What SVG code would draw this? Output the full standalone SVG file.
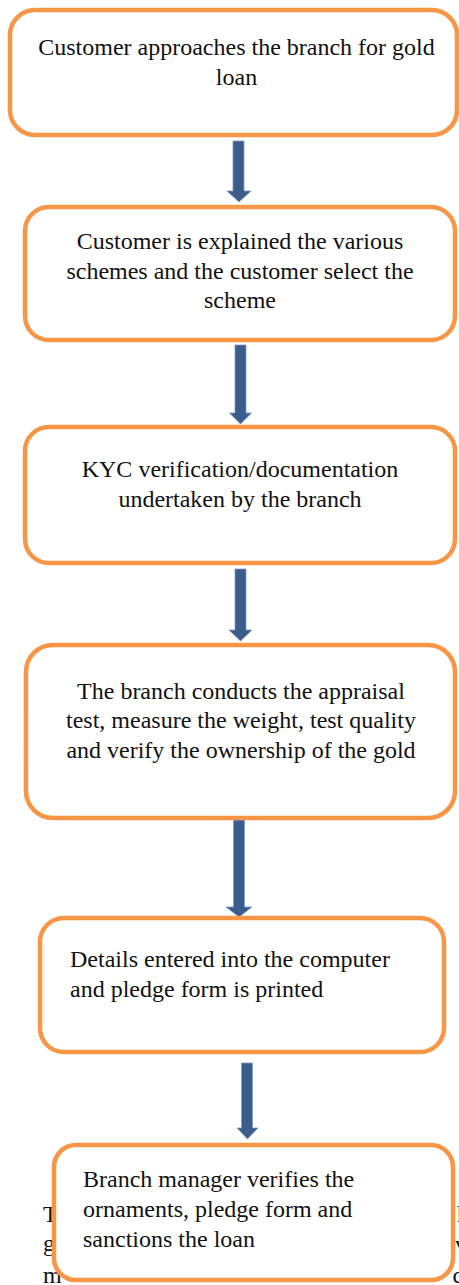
<svg xmlns="http://www.w3.org/2000/svg" width="459" height="1285" viewBox="0 0 459 1285">
<style>
.box{fill:#ffffff;stroke:#F79646;stroke-width:4.5}
text{font-family:'Liberation Serif','Times New Roman',Tinos,'DejaVu Serif',serif;font-size:24px;fill:#111111}
.c{text-anchor:middle}
.arr{fill:#3A5D8B;stroke:#7F9CC4;stroke-width:0.8}
</style>
<rect width="459" height="1285" fill="#ffffff"/>
<g id="background-text">
<text x="43" y="1222">T</text>
<text x="43" y="1251">g</text>
<text x="43" y="1283">m</text>
<text x="457" y="1222">h</text>
<text x="455" y="1252">v</text>
<text x="452.5" y="1283">c</text>
</g>
<g id="connectors">
<path class="arr" d="M233,141 H244 V191 H251 L239,202 L227,191 H233 Z"/>
<path class="arr" d="M235,345 H246 V413 H251.5 L240.5,424 L229.5,413 H235 Z"/>
<path class="arr" d="M235,569 H246 V630 H252 L240.5,641 L229,630 H235 Z"/>
<path class="arr" d="M233.5,820 H244.5 V907 H252 L239,917 L226,907 H233.5 Z"/>
<path class="arr" d="M241.5,1063 H252.5 V1128 H258 L247.5,1139 L237,1128 H241.5 Z"/>
</g>
<g id="node1">
<rect class="box" x="10" y="10" width="447" height="125" rx="25"/>
<text class="c" x="236.5" y="55">Customer approaches the branch for gold</text>
<text class="c" x="236.5" y="85">loan</text>
</g>
<g id="node2">
<rect class="box" x="25" y="207" width="430" height="133" rx="24"/>
<text class="c" x="240" y="249">Customer is explained the various</text>
<text class="c" x="240" y="278.5">schemes and the customer select the</text>
<text class="c" x="240" y="308">scheme</text>
</g>
<g id="node3">
<rect class="box" x="25" y="427" width="430" height="136" rx="24"/>
<text class="c" x="240" y="477">KYC verification/documentation</text>
<text class="c" x="240" y="507">undertaken by the branch</text>
</g>
<g id="node4">
<rect class="box" x="26" y="645" width="429" height="173" rx="27"/>
<text class="c" x="241" y="698.5">The branch conducts the appraisal</text>
<text class="c" x="241" y="728">test, measure the weight, test quality</text>
<text class="c" x="241" y="757.5">and verify the ownership of the gold</text>
</g>
<g id="node5">
<rect class="box" x="40" y="918" width="404" height="134" rx="24"/>
<text x="70" y="967">Details entered into the computer</text>
<text x="70" y="997">and pledge form is printed</text>
</g>
<g id="node6">
<rect class="box" x="54" y="1145" width="399" height="135" rx="22"/>
<text x="83" y="1187">Branch manager verifies the</text>
<text x="83" y="1217">ornaments, pledge form and</text>
<text x="83" y="1247">sanctions the loan</text>
</g>
</svg>
